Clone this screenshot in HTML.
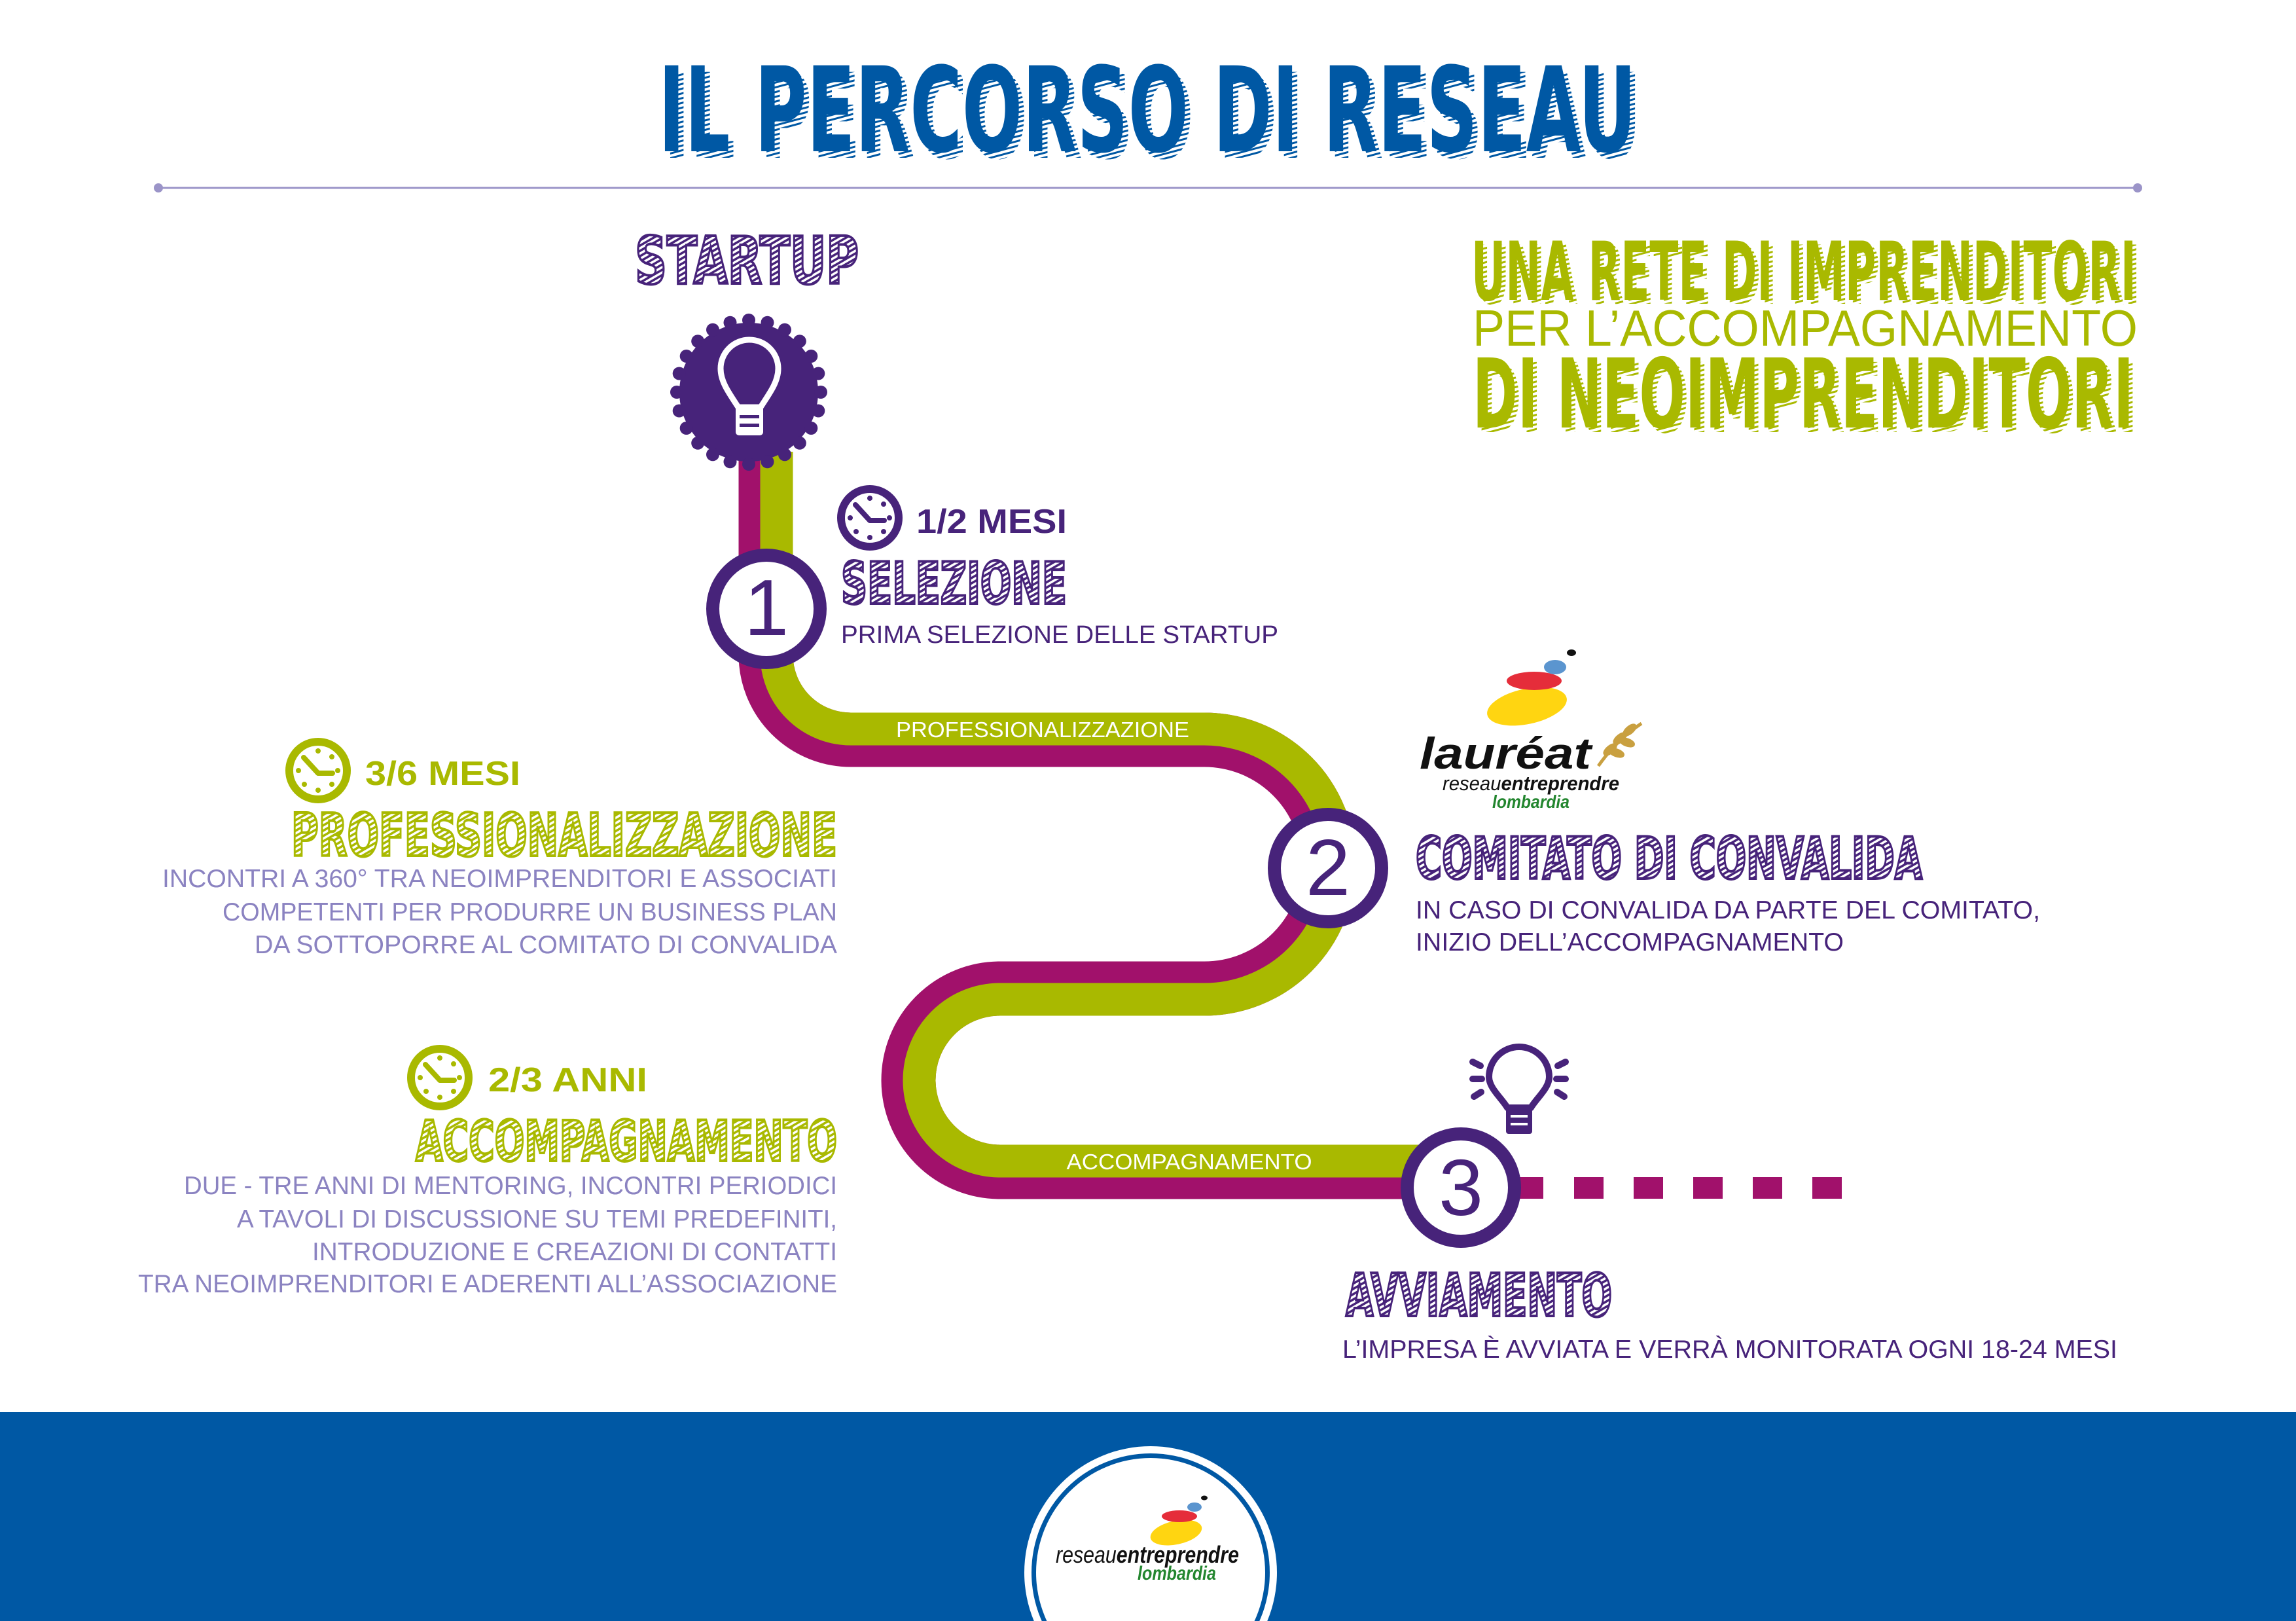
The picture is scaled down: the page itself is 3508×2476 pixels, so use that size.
<!DOCTYPE html>
<html><head><meta charset="utf-8"><style>
html,body{margin:0;padding:0;background:#fff;}
svg{display:block;}
text{font-family:"Liberation Sans",sans-serif;}
.cond{font-family:"Liberation Sans Narrow","DejaVu Sans Condensed","Liberation Sans",sans-serif;font-weight:bold;}
</style></head><body>
<svg width="3508" height="2476" viewBox="0 0 3508 2476" xmlns="http://www.w3.org/2000/svg">
<defs>
<pattern id="hp" width="7" height="7" patternUnits="userSpaceOnUse" patternTransform="rotate(60)"><rect width="7" height="7" fill="#fff"/><rect width="3.5" height="7" fill="#47237a"/></pattern>
<pattern id="hg" width="7" height="7" patternUnits="userSpaceOnUse" patternTransform="rotate(60)"><rect width="7" height="7" fill="#fff"/><rect width="3.5" height="7" fill="#a9b900"/></pattern>
<pattern id="hb" width="7" height="7" patternUnits="userSpaceOnUse" patternTransform="rotate(75)"><rect width="7" height="7" fill="#fff"/><rect width="3" height="7" fill="#0058a4"/></pattern>
<pattern id="hgs" width="7" height="7" patternUnits="userSpaceOnUse" patternTransform="rotate(75)"><rect width="7" height="7" fill="#fff"/><rect width="3" height="7" fill="#a9b900"/></pattern>
<g id="clock">
<circle cx="0" cy="0" r="44" fill="none" stroke-width="12"/>
<path d="M-22,-20 L0,4 L22,4" fill="none" stroke-width="8" stroke-linecap="round" stroke-linejoin="round"/>
<circle cx="0" cy="-30" r="3.5"/><circle cx="0" cy="30" r="3.5"/><circle cx="-30" cy="0" r="3.5"/><circle cx="30" cy="0" r="3.5"/>
<circle cx="21" cy="-21" r="3.5"/><circle cx="21" cy="21" r="3.5"/><circle cx="-21" cy="21" r="3.5"/>
</g>
</defs>

<!-- Title -->
<text x="1014" y="241" class="cond" font-size="180" fill="url(#hb)" textLength="1494" lengthAdjust="spacingAndGlyphs">IL PERCORSO DI RESEAU</text>
<text x="1006" y="231" class="cond" font-size="180" fill="#0058a4" textLength="1494" lengthAdjust="spacingAndGlyphs">IL PERCORSO DI RESEAU</text>
<line x1="242" y1="287" x2="3266" y2="287" stroke="#9b94c8" stroke-width="3"/>
<circle cx="242" cy="287" r="7" fill="#9b94c8"/><circle cx="3266" cy="287" r="7" fill="#9b94c8"/>

<!-- STARTUP -->
<text x="970" y="433" class="cond" font-size="100" fill="url(#hp)" stroke="#47237a" stroke-width="4" textLength="342" lengthAdjust="spacingAndGlyphs">STARTUP</text>

<!-- Right block -->
<text x="2254" y="464" class="cond" font-size="124" fill="url(#hgs)" textLength="1016" lengthAdjust="spacingAndGlyphs">UNA RETE DI IMPRENDITORI</text>
<text x="2248" y="458" class="cond" font-size="124" fill="#a9b900" textLength="1016" lengthAdjust="spacingAndGlyphs">UNA RETE DI IMPRENDITORI</text>
<text x="2250" y="528" font-size="78" fill="#a9b900" textLength="1016" lengthAdjust="spacingAndGlyphs">PER L’ACCOMPAGNAMENTO</text>
<text x="2256" y="660" class="cond" font-size="147" fill="url(#hgs)" textLength="1010" lengthAdjust="spacingAndGlyphs">DI NEOIMPRENDITORI</text>
<text x="2250" y="653" class="cond" font-size="147" fill="#a9b900" textLength="1010" lengthAdjust="spacingAndGlyphs">DI NEOIMPRENDITORI</text>

<!-- Path -->
<path d="M1170,690 L1170,1000 A130,130 0 0 0 1300,1130 L1840,1130 A190,190 0 0 1 1840,1510 L1528,1510 A140,140 0 0 0 1528,1790 L2232,1790" fill="none" stroke="#a1116b" stroke-width="83"/>
<path d="M1186.5,690 L1186.5,1000 A113.5,113.5 0 0 0 1300,1113.5 L1840,1113.5 A206.5,206.5 0 0 1 1840,1526.5 L1528,1526.5 A123.5,123.5 0 0 0 1528,1773.5 L2232,1773.5" fill="none" stroke="#a9b900" stroke-width="50"/>
<g fill="#a1116b">
<rect x="2300" y="1798" width="58" height="33"/>
<rect x="2405" y="1798" width="45" height="33"/>
<rect x="2496" y="1798" width="45" height="33"/>
<rect x="2587" y="1798" width="45" height="33"/>
<rect x="2678" y="1798" width="45" height="33"/>
<rect x="2769" y="1798" width="45" height="33"/>
</g>
<text x="1593" y="1126" font-size="33" fill="#fff" text-anchor="middle" textLength="448" lengthAdjust="spacingAndGlyphs">PROFESSIONALIZZAZIONE</text>
<text x="1817" y="1786" font-size="33" fill="#fff" text-anchor="middle" textLength="375" lengthAdjust="spacingAndGlyphs">ACCOMPAGNAMENTO</text>

<!-- Badge -->
<g fill="#47237a">
<circle cx="1144" cy="599" r="106"/>
<g id="bumps">
<circle cx="1144" cy="489" r="10"/><circle cx="1172.5" cy="492.7" r="10"/><circle cx="1199" cy="503.7" r="10"/><circle cx="1221.8" cy="521.2" r="10"/><circle cx="1239.3" cy="544" r="10"/><circle cx="1250.3" cy="570.5" r="10"/><circle cx="1254" cy="599" r="10"/><circle cx="1250.3" cy="627.5" r="10"/><circle cx="1239.3" cy="654" r="10"/><circle cx="1221.8" cy="676.8" r="10"/><circle cx="1199" cy="694.3" r="10"/><circle cx="1172.5" cy="705.3" r="10"/><circle cx="1144" cy="709" r="10"/><circle cx="1115.5" cy="705.3" r="10"/><circle cx="1089" cy="694.3" r="10"/><circle cx="1066.2" cy="676.8" r="10"/><circle cx="1048.7" cy="654" r="10"/><circle cx="1037.7" cy="627.5" r="10"/><circle cx="1034" cy="599" r="10"/><circle cx="1037.7" cy="570.5" r="10"/><circle cx="1048.7" cy="544" r="10"/><circle cx="1066.2" cy="521.2" r="10"/><circle cx="1089" cy="503.7" r="10"/><circle cx="1115.5" cy="492.7" r="10"/>
</g>
</g>
<path d="M1128,622 C1112,598 1101,582 1101,563 A44,44 0 0 1 1189,563 C1189,582 1178,598 1162,622 Z" fill="none" stroke="#fff" stroke-width="9" stroke-linejoin="round"/>
<rect x="1124" y="620" width="42" height="45" rx="5" fill="#fff"/>
<rect x="1130" y="634" width="30" height="5" fill="#47237a"/><rect x="1130" y="647" width="30" height="5" fill="#47237a"/>

<!-- Circles -->
<g fill="#fff" stroke="#47237a" stroke-width="20">
<circle cx="1171" cy="930" r="82"/>
<circle cx="2029" cy="1326" r="82"/>
<circle cx="2232" cy="1814" r="82"/>
</g>
<g fill="#47237a" font-size="122" text-anchor="middle">
<text x="1171" y="970">1</text>
<text x="2029" y="1367">2</text>
<text x="2232" y="1856">3</text>
</g>

<!-- Selezione -->
<use href="#clock" x="1329" y="791" stroke="#47237a" fill="#47237a"/>
<text x="1400" y="814" font-size="52" font-weight="bold" fill="#47237a" textLength="230" lengthAdjust="spacingAndGlyphs">1/2 MESI</text>
<text x="1285" y="922" class="cond" font-size="88" fill="url(#hp)" stroke="#47237a" stroke-width="4" textLength="345" lengthAdjust="spacingAndGlyphs">SELEZIONE</text>
<text x="1285" y="982" font-size="38" fill="#47237a" textLength="668" lengthAdjust="spacingAndGlyphs">PRIMA SELEZIONE DELLE STARTUP</text>

<!-- Professionalizzazione -->
<use href="#clock" x="486" y="1177" stroke="#a9b900" fill="#a9b900"/>
<text x="558" y="1199" font-size="52" font-weight="bold" fill="#a9b900" textLength="237" lengthAdjust="spacingAndGlyphs">3/6 MESI</text>
<text x="445" y="1307" class="cond" font-size="90" fill="url(#hg)" stroke="#a9b900" stroke-width="4" textLength="834" lengthAdjust="spacingAndGlyphs">PROFESSIONALIZZAZIONE</text>
<g font-size="39" fill="#8b83c1" text-anchor="end">
<text x="1279" y="1355" textLength="1031" lengthAdjust="spacingAndGlyphs">INCONTRI A 360° TRA NEOIMPRENDITORI E ASSOCIATI</text>
<text x="1279" y="1406" textLength="939" lengthAdjust="spacingAndGlyphs">COMPETENTI PER PRODURRE UN BUSINESS PLAN</text>
<text x="1279" y="1456" textLength="890" lengthAdjust="spacingAndGlyphs">DA SOTTOPORRE AL COMITATO DI CONVALIDA</text>
</g>

<!-- Accompagnamento -->
<use href="#clock" x="672" y="1646" stroke="#a9b900" fill="#a9b900"/>
<text x="746" y="1667" font-size="52" font-weight="bold" fill="#a9b900" textLength="243" lengthAdjust="spacingAndGlyphs">2/3 ANNI</text>
<text x="635" y="1773" class="cond" font-size="86" fill="url(#hg)" stroke="#a9b900" stroke-width="4" textLength="644" lengthAdjust="spacingAndGlyphs">ACCOMPAGNAMENTO</text>
<g font-size="39" fill="#8b83c1" text-anchor="end">
<text x="1279" y="1824" textLength="998" lengthAdjust="spacingAndGlyphs">DUE - TRE ANNI DI MENTORING, INCONTRI PERIODICI</text>
<text x="1279" y="1875" textLength="917" lengthAdjust="spacingAndGlyphs">A TAVOLI DI DISCUSSIONE SU TEMI PREDEFINITI,</text>
<text x="1279" y="1925" textLength="802" lengthAdjust="spacingAndGlyphs">INTRODUZIONE E CREAZIONI DI CONTATTI</text>
<text x="1279" y="1974" textLength="1068" lengthAdjust="spacingAndGlyphs">TRA NEOIMPRENDITORI E ADERENTI ALL’ASSOCIAZIONE</text>
</g>

<!-- Lauréat logo -->
<ellipse cx="2333" cy="1079" rx="62" ry="27" fill="#ffd511" transform="rotate(-12 2333 1079)"/>
<ellipse cx="2344" cy="1040" rx="42" ry="14" fill="#e52d3a"/>
<ellipse cx="2376" cy="1019" rx="17" ry="11" fill="#5b95cf"/>
<ellipse cx="2401" cy="997" rx="7" ry="5" fill="#111"/>
<text x="2169" y="1174" font-size="68" font-weight="bold" font-style="italic" fill="#111" textLength="262" lengthAdjust="spacingAndGlyphs">lauréat</text>
<g stroke="#c9a040" stroke-width="5" fill="#c9a040">
<path d="M2442,1170 Q2470,1130 2508,1105" fill="none"/>
<ellipse cx="2460" cy="1145" rx="10" ry="4" transform="rotate(-40 2460 1145)"/>
<ellipse cx="2475" cy="1128" rx="10" ry="4" transform="rotate(-40 2475 1128)"/>
<ellipse cx="2490" cy="1115" rx="10" ry="4" transform="rotate(-40 2490 1115)"/>
<ellipse cx="2470" cy="1150" rx="10" ry="4" transform="rotate(20 2470 1150)"/>
<ellipse cx="2486" cy="1134" rx="10" ry="4" transform="rotate(20 2486 1134)"/>
</g>
<text x="2204" y="1207" font-size="31" font-style="italic" fill="#111" textLength="270" lengthAdjust="spacingAndGlyphs">reseau<tspan font-weight="bold">entreprendre</tspan></text>
<text x="2280" y="1234" font-size="28" font-weight="bold" font-style="italic" fill="#23862f" textLength="118" lengthAdjust="spacingAndGlyphs">lombardia</text>

<!-- Comitato -->
<text x="2163" y="1342" class="cond" font-size="88" fill="url(#hp)" stroke="#47237a" stroke-width="4" textLength="774" lengthAdjust="spacingAndGlyphs">COMITATO DI CONVALIDA</text>
<g font-size="39" fill="#47237a">
<text x="2163" y="1403" textLength="954" lengthAdjust="spacingAndGlyphs">IN CASO DI CONVALIDA DA PARTE DEL COMITATO,</text>
<text x="2163" y="1452" textLength="654" lengthAdjust="spacingAndGlyphs">INIZIO DELL’ACCOMPAGNAMENTO</text>
</g>

<!-- Bulb 3 -->
<g stroke="#47237a" stroke-width="10" fill="none" stroke-linecap="round">
<path d="M2303,1692 C2295,1678 2275,1662 2275,1645 A46,46 0 0 1 2367,1645 C2367,1662 2347,1678 2339,1692 Z" stroke-linejoin="round"/>
<line x1="2250" y1="1622" x2="2262" y2="1628"/><line x1="2250" y1="1648" x2="2264" y2="1648"/><line x1="2252" y1="1675" x2="2263" y2="1668"/>
<line x1="2392" y1="1622" x2="2380" y2="1628"/><line x1="2392" y1="1648" x2="2378" y2="1648"/><line x1="2390" y1="1675" x2="2379" y2="1668"/>
</g>
<rect x="2301" y="1692" width="40" height="40" rx="4" fill="#47237a"/>
<rect x="2308" y="1703" width="26" height="4" fill="#fff"/><rect x="2308" y="1715" width="26" height="4" fill="#fff"/>

<!-- Avviamento -->
<text x="2056" y="2010" class="cond" font-size="90" fill="url(#hp)" stroke="#47237a" stroke-width="4" textLength="407" lengthAdjust="spacingAndGlyphs">AVVIAMENTO</text>
<text x="2051" y="2074" font-size="39" fill="#47237a" textLength="1184" lengthAdjust="spacingAndGlyphs">L’IMPRESA È AVVIATA E VERRÀ MONITORATA OGNI 18-24 MESI</text>

<!-- Footer -->
<rect x="0" y="2157" width="3508" height="319" fill="#0058a4"/>
<circle cx="1758" cy="2402" r="193" fill="#fff"/>
<circle cx="1758" cy="2402" r="182" fill="#0058a4"/>
<circle cx="1758" cy="2402" r="175" fill="#fff"/>
<ellipse cx="1797" cy="2341" rx="40" ry="18" fill="#ffd511" transform="rotate(-12 1797 2341)"/>
<ellipse cx="1802" cy="2316" rx="27" ry="9" fill="#e52d3a"/>
<ellipse cx="1825" cy="2302" rx="11" ry="7" fill="#5b95cf"/>
<ellipse cx="1840" cy="2288" rx="5" ry="3.5" fill="#111"/>
<text x="1613" y="2387" font-size="36" font-style="italic" fill="#111" textLength="280" lengthAdjust="spacingAndGlyphs">reseau<tspan font-weight="bold">entreprendre</tspan></text>
<text x="1738" y="2413" font-size="30" font-weight="bold" font-style="italic" fill="#23862f" textLength="120" lengthAdjust="spacingAndGlyphs">lombardia</text>
</svg>
</body></html>
